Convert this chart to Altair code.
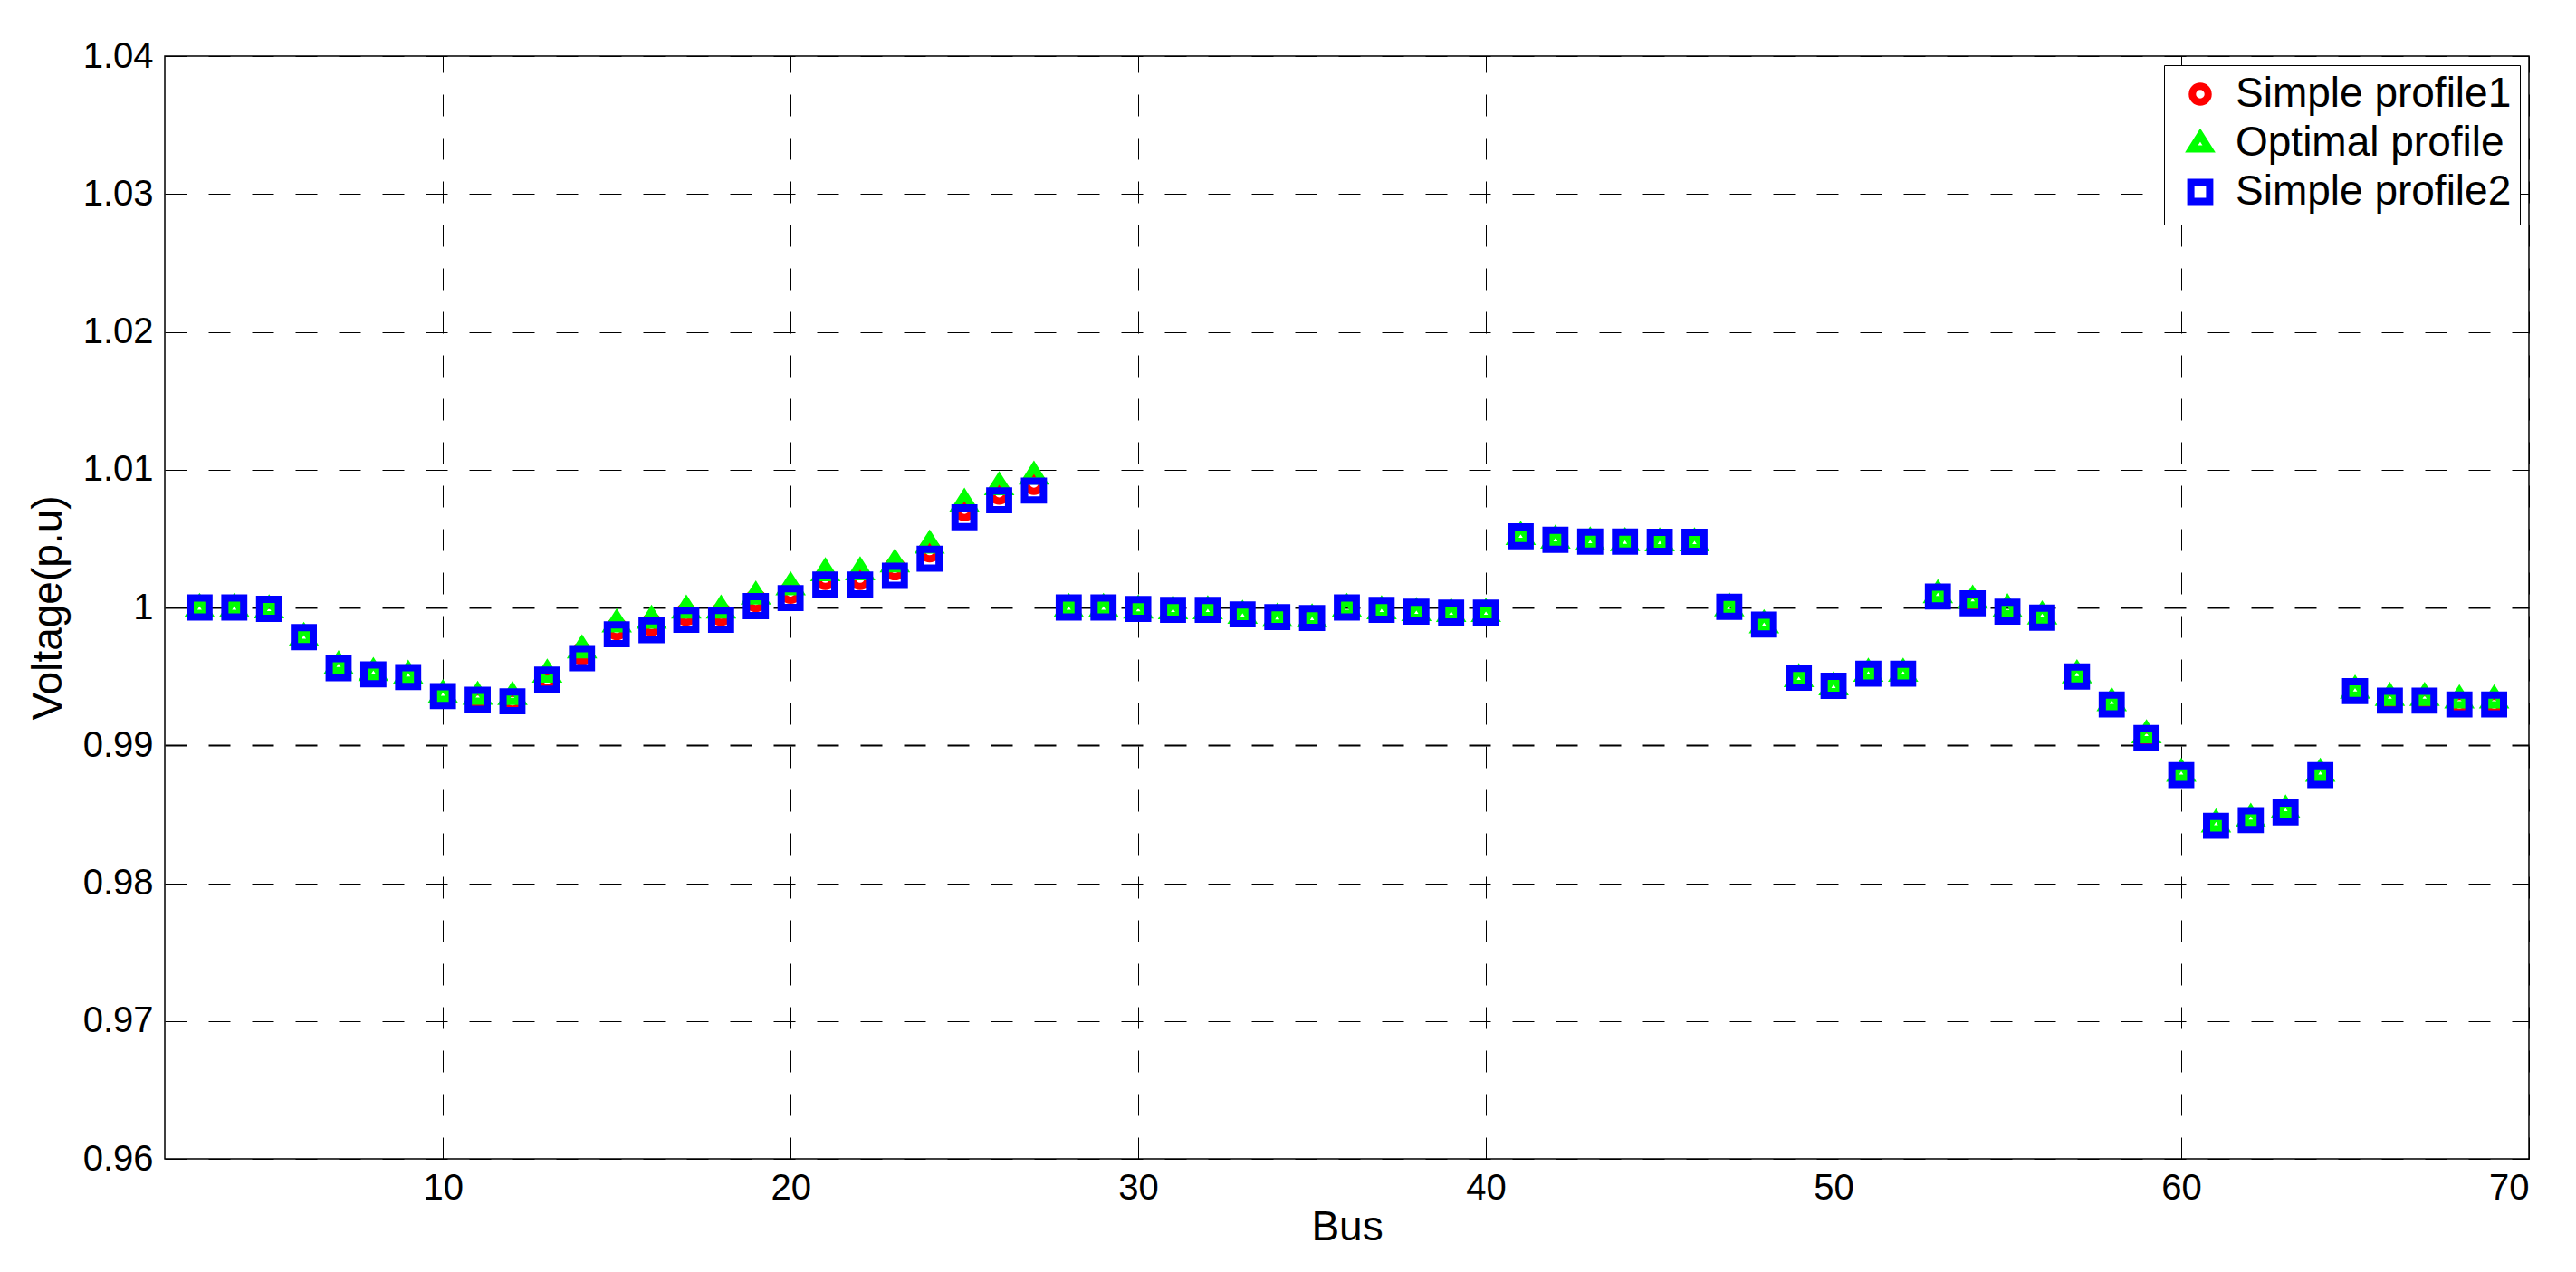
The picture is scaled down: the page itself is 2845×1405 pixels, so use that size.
import altair as alt
import pandas as pd

# ---- data ----
bus = list(range(3, 70))

simple_profile2 = [
    1.0000, 1.0000, 0.9999, 0.99785, 0.9956, 0.99515, 0.99495, 0.99357, 0.9933, 0.9932,   # 3-12
    0.99476, 0.99632, 0.99805, 0.99835, 0.9991, 0.9991, 1.0001, 1.00068, 1.00167, 1.00167,  # 13-22
    1.0023, 1.00354, 1.00654, 1.00778, 1.00848,                                            # 23-27
    1.0000, 1.0000, 0.99989, 0.99983, 0.99983, 0.9995, 0.9993, 0.99924, 1.0000, 0.99983,    # 28-37
    0.9997, 0.99963, 0.99963,                                                              # 38-40
    1.00517, 1.00491, 1.00478, 1.00478, 1.00476, 1.00476,                                  # 41-46
    1.00005, 0.99876, 0.9949, 0.99432, 0.9952, 0.9952,                                     # 47-52
    1.0008, 1.0003, 0.9997, 0.99926, 0.99499, 0.99297, 0.99053, 0.98784,                   # 53-60
    0.98416, 0.98457, 0.98513, 0.98784, 0.99393, 0.99324, 0.99324, 0.99297, 0.99297,       # 61-69
]

optimal_profile = [
    1.0000, 1.0000, 0.9999, 0.9979, 0.99585, 0.99535, 0.99516, 0.99375, 0.99362, 0.99361,  # 3-12
    0.99524, 0.99700, 0.99888, 0.99914, 0.99989, 0.99989, 1.0009, 1.00158, 1.00259, 1.00266,  # 13-22
    1.00324, 1.0046, 1.00763, 1.00883, 1.0096,                                             # 23-27
    1.0000, 1.0000, 0.99989, 0.99983, 0.99983, 0.9995, 0.9993, 0.99924, 1.0000, 0.99983,    # 28-37
    0.9997, 0.99963, 0.99963,                                                              # 38-40
    1.00522, 1.00495, 1.00482, 1.00478, 1.00476, 1.00476,                                  # 41-46
    1.00005, 0.99882, 0.9949, 0.99432, 0.9953, 0.9953,                                     # 47-52
    1.0010, 1.0006, 0.99998, 0.99946, 0.99519, 0.99317, 0.99083, 0.98804,                  # 53-60
    0.98436, 0.98477, 0.98538, 0.98804, 0.99407, 0.99354, 0.99354, 0.99337, 0.99337,       # 61-69
]

simple_profile1 = [
    1.0000, 1.0000, 0.9999, 0.99785, 0.9956, 0.99515, 0.99495, 0.99357, 0.9933, 0.9932,   # 3-12
    0.99476, 0.99665, 0.99845, 0.99875, 0.9995, 0.9995, 1.0005, 1.0011, 1.0021, 1.0021,    # 13-22
    1.0028, 1.0041, 1.0071, 1.0083, 1.0090,                                                # 23-27
    1.0000, 1.0000, 0.99989, 0.99983, 0.99983, 0.9995, 0.9993, 0.99924, 1.0000, 0.99983,    # 28-37
    0.9997, 0.99963, 0.99963,                                                              # 38-40
    1.00517, 1.00491, 1.00478, 1.00478, 1.00476, 1.00476,                                  # 41-46
    1.00005, 0.99876, 0.9949, 0.99432, 0.9952, 0.9952,                                     # 47-52
    1.0008, 1.0003, 0.9997, 0.99926, 0.99499, 0.99297, 0.99053, 0.98784,                   # 53-60
    0.98416, 0.98457, 0.98513, 0.98784, 0.99393, 0.99324, 0.99324, 0.99297, 0.99297,       # 61-69
]

series_names = ["Simple profile1", "Optimal profile", "Simple profile2"]
series_colors = ["#ff0000", "#00ff00", "#0000ff"]

x_ticks = [10, 20, 30, 40, 50, 60, 70]
y_ticks = [0.96, 0.97, 0.98, 0.99, 1.00, 1.01, 1.02, 1.03, 1.04]

# ---- long table (draw order: profile1, optimal, profile2) ----
rows = []
for name, vals in zip(series_names, [simple_profile1, optimal_profile, simple_profile2]):
    for b, v in zip(bus, vals):
        rows.append({"bus": b, "voltage": v, "series": name})
df = pd.DataFrame(rows)

FONT = "Liberation Sans"
triangle_path = "M0,-0.913L1,0.673L-1,0.673Z"

chart = (
    alt.Chart(df)
    .mark_point(filled=False, strokeWidth=8, opacity=1, strokeJoin="miter")
    .encode(
        x=alt.X(
            "bus:Q",
            scale=alt.Scale(domain=[2, 70], nice=False, zero=False),
            axis=alt.Axis(
                values=x_ticks,
                title="Bus",
                labelPadding=12,
                titlePadding=1,
                gridDashOffset=6,
            ),
        ),
        y=alt.Y(
            "voltage:Q",
            scale=alt.Scale(domain=[0.96, 1.04], nice=False, zero=False),
            axis=alt.Axis(
                values=y_ticks,
                title="Voltage(p.u)",
                labelExpr="format(datum.value, '.2~f')",
                labelPadding=13,
                titlePadding=14,
                gridWidth={
                    "condition": {
                        "test": "abs(datum.value - 1) < 1e-6 || abs(datum.value - 0.99) < 1e-6",
                        "value": 2.2,
                    },
                    "value": 1.2,
                },
            ),
        ),
        color=alt.Color(
            "series:N",
            title=None,
            scale=alt.Scale(domain=series_names, range=series_colors),
        ),
        shape=alt.Shape(
            "series:N",
            title=None,
            scale=alt.Scale(domain=series_names, range=["circle", triangle_path, "square"]),
        ),
        size=alt.Size(
            "series:N",
            title=None,
            scale=alt.Scale(domain=series_names, range=[306, 433, 225]),
        ),
    )
    .properties(
        width=2611,
        height=1218,
        autosize=alt.AutoSizeParams(type="none"),
        padding={"left": 174, "top": 54, "right": 40, "bottom": 108},
        background="white",
    )
    .configure_view(stroke="black", strokeWidth=1.5)
    .configure_axis(
        labelFont=FONT,
        labelFontSize=40,
        labelColor="black",
        titleFont=FONT,
        titleFontSize=46,
        titleFontWeight="normal",
        titleColor="black",
        ticks=False,
        domain=False,
        grid=True,
        gridColor="black",
        gridOpacity=1,
        gridDash=[24, 24],
    )
    .configure_legend(
        orient="none",
        legendX=2208,
        legendY=10,
        padding=9,
        rowPadding=4,
        labelFont=FONT,
        labelFontSize=46,
        labelColor="black",
        labelLimit=1000,
        labelOffset=16,
        symbolOffset=8,
        symbolStrokeWidth=8,
        strokeColor="black",
        fillColor="white",
        cornerRadius=0,
    )
)

chart.save("out.html", embed_options={"renderer": "svg", "actions": False})
